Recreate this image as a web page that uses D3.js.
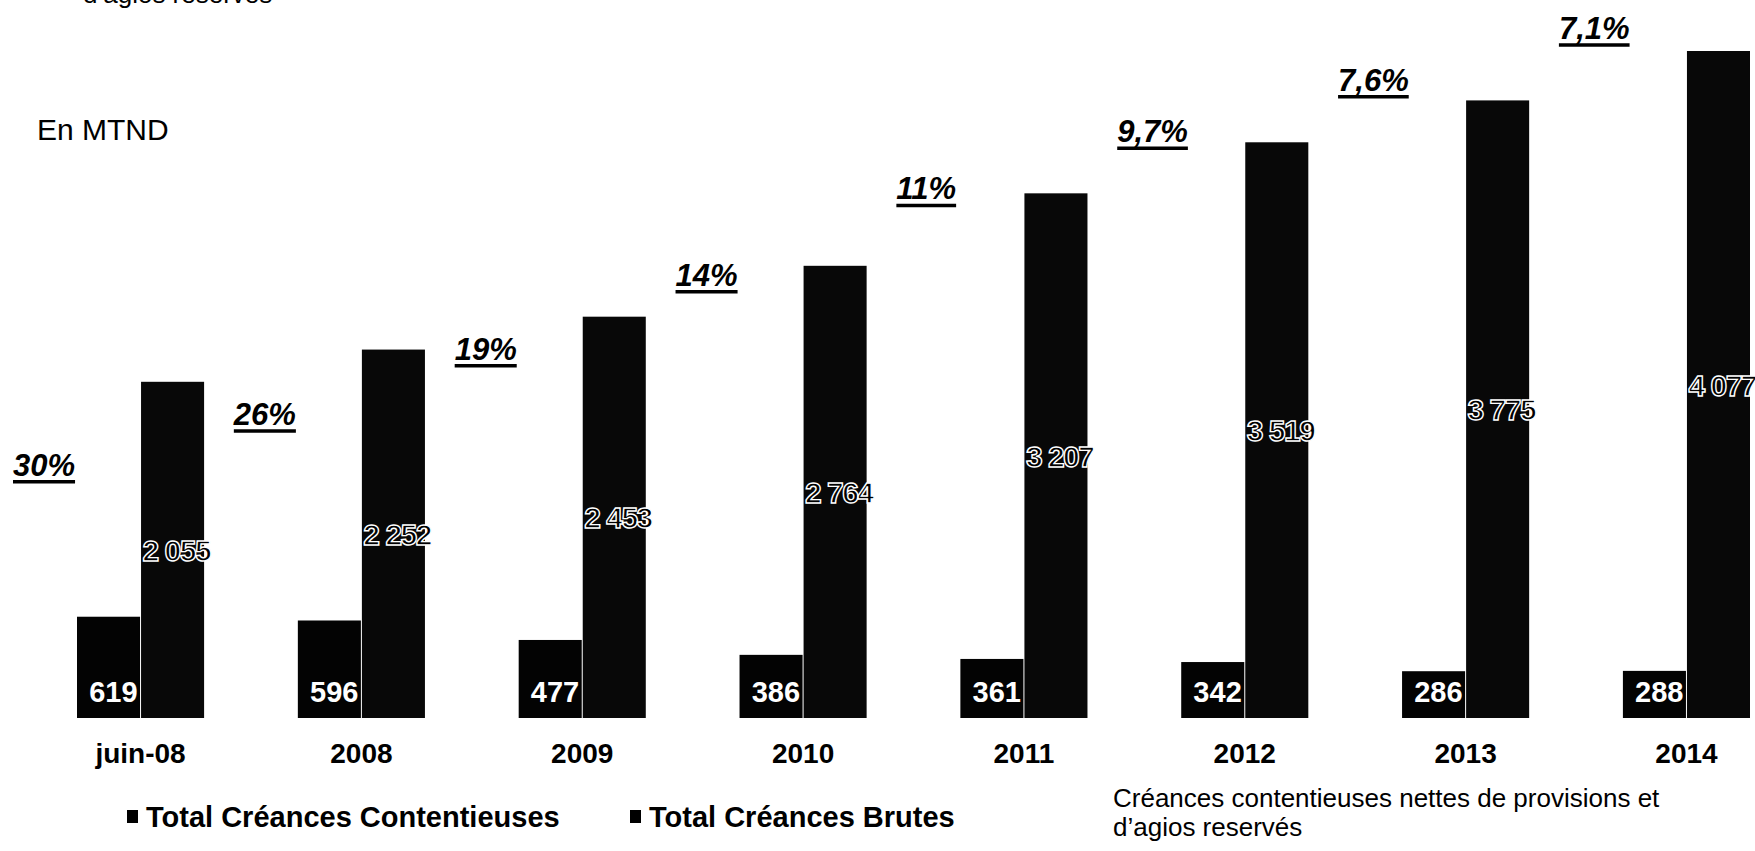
<!DOCTYPE html>
<html>
<head>
<meta charset="utf-8">
<script src="https://cdn.jsdelivr.net/npm/d3@7"></script>
<style>
  body { margin: 0; background: #fff; }
  svg text { font-family: "Liberation Sans", Arial, sans-serif; }
</style>
</head>
<body>
<svg id="chart"></svg>
<script>
// values
const categories = ['juin-08', '2008', '2009', '2010', '2011', '2012', '2013', '2014'];
const contentieuses = [619, 596, 477, 386, 361, 342, 286, 288];
const brutes = [2055, 2252, 2453, 2764, 3207, 3519, 3775, 4077];
const ratios = [30, 26, 19, 14, 11, 9.7, 7.6, 7.1];
const seriesNames = ['Total Créances Contentieuses', 'Total Créances Brutes'];
const captionLines = ['Créances contentieuses nettes de provisions et', 'd\u2019agios reservés'];

const width = 1755;
const height = 851;
const baseY = 718;

const data = categories.map((c, i) => ({cat: c, cont: contentieuses[i], brut: brutes[i], ratio: ratios[i]}));

const locale = d3.formatLocale({decimal: ',', thousands: ' ', grouping: [3], currency: ['', '']});
const fmtThousands = locale.format(',d');
const fmtPct = v => locale.format(v >= 10 ? '.0f' : '.1f')(v) + '%';

const svg = d3.select('svg#chart')
  .attr('width', width)
  .attr('height', height)
  .attr('viewBox', [0, 0, width, height]);

const x = d3.scaleBand()
  .domain(categories)
  .range([77, 1750])
  .paddingInner(0.4245)
  .paddingOuter(0);

const x1 = d3.scaleBand()
  .domain(['cont', 'brut'])
  .range([0, x.bandwidth()]);

const y = d3.scaleLinear()
  .domain([0, d3.max(brutes)])
  .range([baseY, 51]);

// how far the ratio label sits below the top of the gross bar
const ratioShift = d3.scaleLinear()
  .domain([7.1, 30])
  .range([-12, 94]);

const groups = svg.append('g')
  .selectAll('g')
  .data(data)
  .join('g')
  .attr('transform', d => `translate(${x(d.cat)},0)`);

groups.append('rect')
  .attr('x', x1('cont'))
  .attr('y', d => y(d.cont))
  .attr('width', x1.bandwidth() - 0.5)
  .attr('height', d => y(0) - y(d.cont))
  .attr('fill', '#030303');

groups.append('rect')
  .attr('x', x1('brut') + 0.5)
  .attr('y', d => y(d.brut))
  .attr('width', x1.bandwidth() - 0.5)
  .attr('height', d => y(0) - y(d.brut))
  .attr('fill', '#080808');

// value labels inside the small bars
groups.append('text')
  .attr('x', x1('cont') + x1.bandwidth() - 3)
  .attr('y', y(0) - 16)
  .attr('text-anchor', 'end')
  .attr('fill', '#fff')
  .style('font-size', '29px')
  .style('font-weight', 'bold')
  .text(d => d.cont);

// outlined value labels in the middle of the gross bars
groups.append('text')
  .attr('x', x1('brut') + x1.bandwidth() / 2 + 4)
  .attr('y', d => (y(d.brut) + y(0)) / 2 + 11)
  .attr('text-anchor', 'middle')
  .attr('fill', '#000')
  .attr('stroke', '#fff')
  .attr('stroke-width', 1.4)
  .style('font-size', '30px')
  .style('font-weight', 'bold')
  .style('letter-spacing', '-1.5px')
  .text(d => fmtThousands(d.brut));

// category axis
const xAxis = g => g
  .attr('transform', `translate(0,${baseY})`)
  .call(d3.axisBottom(x).tickSize(0).tickPadding(25))
  .call(g => g.select('.domain').remove());

svg.append('g')
  .attr('class', 'axis')
  .call(xAxis);

svg.selectAll('.axis .tick text')
  .attr('fill', '#000')
  .style('font-family', '"Liberation Sans", Arial, sans-serif')
  .style('font-size', '28px')
  .style('font-weight', 'bold');

// ratio labels, underlined
const ratioLabels = svg.append('g')
  .selectAll('g')
  .data(data)
  .join('g')
  .attr('transform', d => `translate(${x(d.cat) - 64},${y(d.brut) + ratioShift(d.ratio)})`);

ratioLabels.append('text')
  .attr('fill', '#000')
  .style('font-size', '31px')
  .style('font-weight', 'bold')
  .style('font-style', 'italic')
  .text(d => fmtPct(d.ratio));

ratioLabels.each(function() {
  const g = d3.select(this);
  const w = g.select('text').node().getComputedTextLength();
  g.append('line')
    .attr('x1', 0)
    .attr('x2', w)
    .attr('y1', 6)
    .attr('y2', 6)
    .attr('stroke', '#000')
    .attr('stroke-width', 3.5);
});

// unit
svg.append('text')
  .attr('x', 37)
  .attr('y', 140)
  .style('font-size', '30px')
  .text('En MTND');

// caption repeated at the top, cut by the page edge as in the scan
svg.append('text')
  .attr('x', 83)
  .attr('y', 3)
  .style('font-size', '26px')
  .text(captionLines[1]);

// legend
const legend = svg.append('g')
  .selectAll('g')
  .data(seriesNames)
  .join('g')
  .attr('transform', (d, i) => `translate(${i === 0 ? 127 : 630},827)`);

legend.append('rect')
  .attr('x', 0)
  .attr('y', -17)
  .attr('width', 11)
  .attr('height', 13)
  .attr('fill', '#000');

legend.append('text')
  .attr('x', 19)
  .attr('y', 0)
  .style('font-size', '29px')
  .style('font-weight', 'bold')
  .text(d => d);

// caption bottom right
svg.append('text')
  .attr('x', 1113)
  .attr('y', 807)
  .style('font-size', '26px')
  .selectAll('tspan')
  .data(captionLines)
  .join('tspan')
  .attr('x', 1113)
  .attr('dy', (d, i) => i === 0 ? 0 : 29)
  .text(d => d);
</script>
</body>
</html>
